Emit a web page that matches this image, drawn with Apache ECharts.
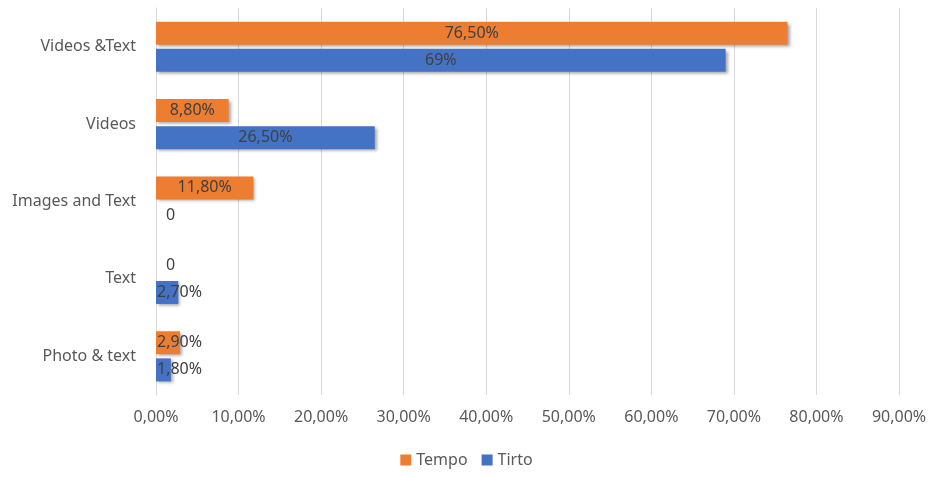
<!DOCTYPE html>
<html><head><meta charset="utf-8">
<script src="https://cdn.jsdelivr.net/npm/echarts@6/dist/echarts.min.js"></script>
<style>html,body{margin:0;padding:0;background:#fff}#c{width:933px;height:477px}</style>
</head><body><div id="c"></div>
<script>
const categories = ["Videos &Text", "Videos", "Images and Text", "Text", "Photo & text"];
const tempo = [76.5, 8.8, 11.8, 0, 2.9];
const tirto = [69, 26.5, 0, 2.7, 1.8];
const tempoLabels = ["76,50%", "8,80%", "11,80%", "0", "2,90%"];
const tirtoLabels = ["69%", "26,50%", "0", "2,70%", "1,80%"];
const xTicks = ["0,00%","10,00%","20,00%","30,00%","40,00%","50,00%","60,00%","70,00%","80,00%","90,00%"];

function mk(vals){
  return vals.map(v=>{
    const d = {value:v};
    if (v < 5) d.label = {position:'insideLeft', distance: v===0?10:1};
    return d;
  });
}
const shadow = {shadowColor:'rgba(0,0,0,0.35)', shadowBlur:3, shadowOffsetX:2, shadowOffsetY:2};
const chart = echarts.init(document.getElementById('c'));
const font = "'Noto Sans', sans-serif";
chart.setOption({
  animation:false,
  textStyle:{fontFamily:font},
  grid:{left:156, right:34, top:8, bottom:82},
  legend:{bottom:4, left:'center', itemWidth:11, itemHeight:11, icon:'rect', itemGap:14,
    textStyle:{fontSize:16, color:'#595959', fontFamily:font}},
  xAxis:{type:'value', min:0, max:90, interval:10,
    axisLabel:{fontSize:16, color:'#595959', margin:14, formatter:v=>xTicks[Math.round(v/10)]},
    splitLine:{lineStyle:{color:'#d9d9d9'}}, axisLine:{show:false}, axisTick:{show:false}},
  yAxis:{type:'category', data:categories, inverse:true,
    axisLabel:{fontSize:16, color:'#595959', margin:20},
    axisLine:{lineStyle:{color:'#d9d9d9'}}, axisTick:{show:false}},
  series:[
    {name:'Tempo', type:'bar', data:mk(tempo), barWidth:23, barGap:'18%',
      itemStyle:Object.assign({color:'#ED7D31'}, shadow),
      label:{show:true, position:'inside', color:'#404040', fontSize:16,
        formatter:p=>tempoLabels[p.dataIndex]}},
    {name:'Tirto', type:'bar', data:mk(tirto), barWidth:23, barGap:'18%',
      itemStyle:Object.assign({color:'#4472C4'}, shadow),
      label:{show:true, position:'inside', color:'#404040', fontSize:16,
        formatter:p=>tirtoLabels[p.dataIndex]}}
  ]
});
</script></body></html>
